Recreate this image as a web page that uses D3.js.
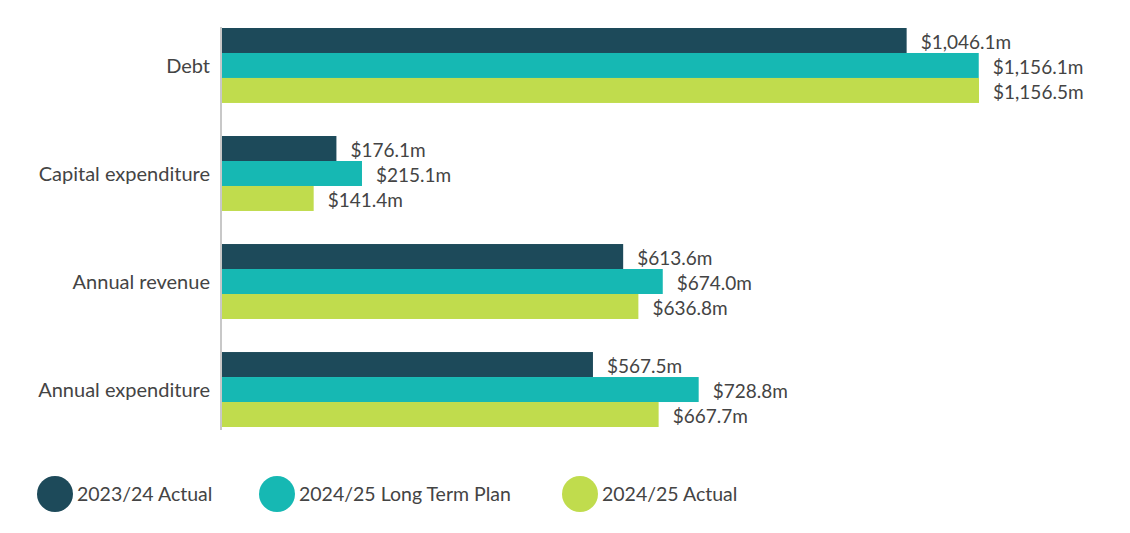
<!DOCTYPE html>
<html>
<head>
<meta charset="utf-8">
<script src="https://cdn.jsdelivr.net/npm/d3@7"></script>
<style>
  body { margin: 0; background: #fff; }
  text { font-family: "Source Sans Pro", Lato, "Open Sans", sans-serif; fill: #444; }
</style>
</head>
<body>
<svg id="chart"></svg>
<script>
var w = 1130;
var h = 533;

var categories = ["Debt", "Capital expenditure", "Annual revenue", "Annual expenditure"];
var seriesNames = ["2023/24 Actual", "2024/25 Long Term Plan", "2024/25 Actual"];
var actual2324 = [1046.1, 176.1, 613.6, 567.5];
var plan2425 = [1156.1, 215.1, 674.0, 728.8];
var actual2425 = [1156.5, 141.4, 636.8, 667.7];
var colors = ["#1d4a5a", "#16b8b3", "#c0dc4d"];

var series = [actual2324, plan2425, actual2425];

var xLeft = 221;
var svg = d3.select("#chart")
            .attr("width", w)
            .attr("height", h);

var xScale = d3.scaleLinear()
              .domain([0, 1156.5])
              .range([xLeft, 979]);

var yScale = d3.scaleBand()
              .domain(categories)
              .range([28, 427])
              .paddingInner(0.306)
              .paddingOuter(0);

var ySub = d3.scaleBand()
              .domain(d3.range(3))
              .range([0, yScale.bandwidth()]);

var fmt = d3.format(",.1f");

var groups = svg.selectAll("g.group")
    .data(categories)
    .enter()
    .append("g")
    .attr("class", "group")
    .attr("transform", function(d){
      return "translate(0," + yScale(d) + ")";
    });

groups.selectAll("rect")
    .data(function(d, i){
      return series.map(function(s, j){ return {v: s[i], j: j}; });
    })
    .enter()
    .append("rect")
    .attr("x", xScale(0))
    .attr("y", function(d){ return ySub(d.j); })
    .attr("width", function(d){ return xScale(d.v) - xScale(0); })
    .attr("height", ySub.bandwidth())
    .attr("fill", function(d){ return colors[d.j]; });

groups.selectAll("text.val")
    .data(function(d, i){
      return series.map(function(s, j){ return {v: s[i], j: j}; });
    })
    .enter()
    .append("text")
    .attr("class", "val")
    .attr("x", function(d){ return xScale(d.v) + 14; })
    .attr("y", function(d){ return ySub(d.j) + ySub.bandwidth() / 2 + 2; })
    .attr("dy", "0.35em")
    .attr("font-size", "19px")
    .text(function(d){ return "$" + fmt(d.v) + "m"; });

// category axis
var yAxis = d3.axisLeft(yScale).tickSize(0).tickPadding(11);
var ax = svg.append("g")
    .attr("transform", "translate(" + xLeft + ",1.5)")
    .call(yAxis);
ax.select(".domain").remove();
ax.selectAll("text")
    .attr("font-size", "20px")
    .attr("fill", "#444")
    .style("font-family", null);

svg.append("line")
    .attr("x1", xLeft).attr("x2", xLeft)
    .attr("y1", 27).attr("y2", 430)
    .attr("stroke", "#c8c8c8")
    .attr("stroke-width", 2);

// legend
var legendX = [55, 277, 580];
var legend = svg.selectAll("g.legend")
    .data(seriesNames)
    .enter()
    .append("g")
    .attr("class", "legend")
    .attr("transform", function(d, i){
      return "translate(" + legendX[i] + ",494)";
    });

legend.append("circle")
    .attr("r", 18)
    .attr("fill", function(d, i){ return colors[i]; });

legend.append("text")
    .attr("x", 22)
    .attr("dy", "0.35em")
    .attr("font-size", "19.5px")
    .text(function(d){ return d; });
</script>
</body>
</html>
